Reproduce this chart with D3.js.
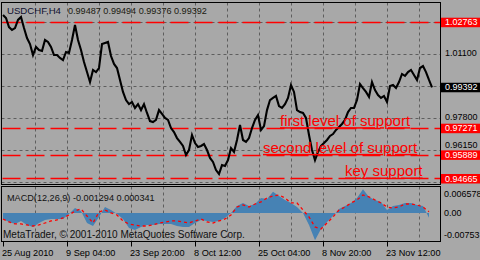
<!DOCTYPE html>
<html><head><meta charset="utf-8">
<script src="https://cdn.jsdelivr.net/npm/d3@7"></script>
<style>
html,body{margin:0;padding:0;background:#a8a8a8;}
svg{display:block;font-family:"Liberation Sans",Arial,sans-serif;}
</style></head>
<body>
<svg id="c" width="480" height="260"></svg>
<script>
// ---------- DATA ----------
const symbolTitle = "USDCHF,H4";
const ohlcText = "0.99487 0.99494 0.99376 0.99392";
const macdTitle = "MACD(12,26,9) -0.001294 0.000341";
const copyright = "MetaTrader, \u00A9 2001-2010 MetaQuotes Software Corp.";

// close prices, one point every 3 H4 bars
const closes = [
1.0314,1.0298,1.0251,1.0236,1.0246,1.0288,1.0303,1.0246,1.0194,1.0163,
1.0106,1.0148,1.0132,1.0127,1.0184,1.0174,1.0148,1.0106,1.0106,1.0091,
1.0080,1.0122,1.0117,1.0184,1.0262,1.0184,1.0132,1.0070,1.0018,0.9966,
1.0029,1.0018,1.0039,1.0163,1.0169,1.0174,1.0101,1.0060,1.0039,0.9977,
0.9915,0.9873,0.9852,0.9863,0.9832,0.9852,0.9821,0.9852,0.9806,0.9764,
0.9759,0.9770,0.9821,0.9801,0.9780,0.9770,0.9728,0.9707,0.9676,0.9656,
0.9635,0.9588,0.9614,0.9692,0.9650,0.9630,0.9635,0.9645,0.9614,0.9573,
0.9552,0.9510,0.9490,0.9536,0.9531,0.9562,0.9624,0.9604,0.9666,0.9744,
0.9666,0.9656,0.9676,0.9728,0.9770,0.9795,0.9718,0.9738,0.9821,0.9873,
0.9884,0.9894,0.9842,0.9832,0.9852,0.9884,0.9951,0.9915,0.9821,0.9811,
0.9806,0.9780,0.9692,0.9614,0.9562,0.9604,0.9635,0.9650,0.9666,0.9687,
0.9697,0.9718,0.9733,0.9749,0.9770,0.9811,0.9832,0.9832,0.9873,0.9956,
0.9935,0.9915,0.9889,0.9966,0.9925,0.9899,0.9884,0.9894,0.9863,0.9946,
0.9951,0.9935,0.9966,1.0008,0.9998,1.0018,1.0029,1.0003,0.9977,1.0039,
1.0049,1.0018,0.9977,0.9939];
const barsPerClose = 3;

// MACD histogram and signal (x1e-3), one point every 6 H4 bars
const macdMain = [
-1.66,-2.49,-3.04,-2.21,-3.32,-3.87,-2.77,-1.94,-1.66,-1.66,
-1.66,-0.28,1.38,0.55,-2.77,-3.60,-1.11,1.66,0.83,-0.28,
-1.66,-4.15,-4.70,-3.87,-3.32,-3.32,-3.04,-3.04,-3.04,-3.60,
-3.87,-3.87,-2.77,-1.94,-2.21,-2.49,-2.21,-1.38,0.00,1.94,
2.77,1.94,2.49,4.15,3.87,5.90,4.70,3.60,2.77,1.66,
0.00,-3.32,-7.53,-4.43,-2.49,-0.83,1.11,1.94,2.77,4.15,
6.58,4.43,3.60,3.04,0.83,1.94,2.21,2.77,2.77,2.21,
1.94,-1.29];
const macdSignal = [
-1.66,-2.49,-3.04,-3.04,-3.32,-3.60,-3.32,-2.77,-2.21,-1.94,
-1.38,-0.55,0.55,1.11,-0.83,-2.77,0.28,0.83,0.00,-0.55,
-2.21,-3.04,-3.32,-3.60,-3.60,-3.32,-2.77,-2.49,-2.21,-2.21,
-2.49,-2.77,-2.21,-1.66,-2.49,-2.77,-2.21,-1.66,-0.55,1.66,
2.21,1.66,2.49,3.04,4.15,4.70,4.98,4.15,2.77,2.77,
0.83,-1.11,-3.87,-4.43,-2.77,-1.11,0.83,1.66,2.77,3.60,
4.98,4.43,3.60,2.77,1.66,1.38,1.66,2.49,2.49,2.21,
1.66,0.34];
const barsPerMacd = 6;

const dateLabels = ["25 Aug 2010","9 Sep 04:00","23 Sep 20:00","8 Oct 12:00","25 Oct 04:00","8 Nov 20:00","23 Nov 12:00"];
const dateLabelBars = [0,64,128,192,256,320,384];
const priceTicks = [1.0275,1.0110,0.9945,0.9780,0.9615,0.9450];
const priceTickValuesShown = [1.0110,0.9780,0.9615];
const priceTickLabels = ["1.01100","0.97800","0.96150"];
const levels = [1.02763,0.97271,0.95889,0.94665];
const levelLabels = ["1.02763","0.97271","0.95889","0.94665"];
const lastPrice = 0.99392, lastPriceLabel = "0.99392";
const notes = ["first level of support","second level of support","key support"];
const noteLevels = [0.97271,0.95889,0.94665];
const noteBars = [277,260,342];
const macdTickValues = [0.006578,0,-0.00753];
const macdTickLabels = ["0.006578","0.00","-0.00753"];

// ---------- DRAW ----------
const svg = d3.select("#c");
const W = 480, H = 260;
const L = 1.5, R = 440.5;
const pTop = 2.5, pBot = 184.5, mTop = 186.5, mBot = 241.5;

const x = d3.scaleLinear().domain([0,437]).range([3,440]);
const y = d3.scaleLinear().domain([0.94354,1.03784]).range([184.5,2.5]);
const ym = d3.scaleLinear().domain([-0.00753,0.006578]).range([240.2,189.2]);

function fitSize(str, target, base){
  const t = svg.append("text").attr("font-size",base).text(str);
  const w = t.node().getComputedTextLength();
  t.remove();
  return w > 0 ? base*target/w : base;
}

svg.append("rect").attr("width",W).attr("height",H).attr("fill","#a8a8a8");
const numFs = fitSize("0.99392", 32.5, 10);
const dateFs = fitSize("9 Sep 04:00", 49.5, 10);
const headFs = fitSize(ohlcText, 139, 10);
const symFs = fitSize(symbolTitle, 54, 10);
const macdFs = fitSize(macdTitle, 148, 10);
const copyFs = fitSize(copyright, 242, 10);

const defs = svg.append("defs");
defs.append("clipPath").attr("id","cp").append("rect").attr("x",L).attr("y",pTop).attr("width",R-L).attr("height",pBot-pTop);
defs.append("clipPath").attr("id","cm").append("rect").attr("x",L).attr("y",mTop).attr("width",R-L).attr("height",mBot-mTop);

const gridCol = "#5e5e5e";
const gridBars = d3.range(32, 437, 32);
[[pTop,pBot],[mTop,mBot]].forEach(([a,b])=>{
  svg.append("g").selectAll("line").data(gridBars).join("line")
    .attr("x1",d=>Math.round(x(d))+0.5).attr("x2",d=>Math.round(x(d))+0.5)
    .attr("y1",a).attr("y2",b)
    .attr("stroke",gridCol).attr("stroke-width",1).attr("stroke-dasharray","3,3");
});
svg.append("g").selectAll("line").data(priceTicks).join("line")
  .attr("x1",L).attr("x2",R)
  .attr("y1",d=>Math.round(y(d))+0.5).attr("y2",d=>Math.round(y(d))+0.5)
  .attr("stroke",gridCol).attr("stroke-width",1).attr("stroke-dasharray","3,3");

svg.append("g").selectAll("line").data(levels).join("line")
  .attr("x1",L+1).attr("x2",R)
  .attr("y1",d=>Math.round(y(d))+0.5).attr("y2",d=>Math.round(y(d))+0.5)
  .attr("stroke","#ff0000").attr("stroke-width",1.3).attr("stroke-dasharray","18,6");

const line = d3.line().x((d,i)=>x(i*barsPerClose)).y(d=>y(d));
svg.append("path").datum(closes).attr("clip-path","url(#cp)")
  .attr("d",line).attr("fill","none").attr("stroke","#000").attr("stroke-width",2.1)
  .attr("stroke-linejoin","miter");

svg.append("g").selectAll("text").data(notes).join("text")
  .attr("x",(d,i)=>x(noteBars[i])).attr("y",(d,i)=>y(noteLevels[i])-2)
  .attr("fill","#ff0000").attr("font-size",15).attr("text-decoration","underline")
  .text(d=>d);

const area = d3.area().x((d,i)=>x(i*barsPerMacd)).y0(ym(0)).y1(d=>ym(d/1000));
svg.append("path").datum(macdMain).attr("clip-path","url(#cm)")
  .attr("d",area).attr("fill","#4682b4");
const sline = d3.line().x((d,i)=>x(i*barsPerMacd)).y(d=>ym(d/1000));
svg.append("path").datum(macdSignal).attr("clip-path","url(#cm)")
  .attr("d",sline).attr("fill","none").attr("stroke","#ff0000").attr("stroke-width",1.3)
  .attr("stroke-dasharray","3,3");

svg.append("rect").attr("x",L).attr("y",pTop).attr("width",R-L).attr("height",pBot-pTop)
  .attr("fill","none").attr("stroke","#000").attr("stroke-width",1);
svg.append("rect").attr("x",L).attr("y",mTop).attr("width",R-L).attr("height",mBot-mTop)
  .attr("fill","none").attr("stroke","#000").attr("stroke-width",1);

// price axis labels; a label that would run into a level box is lifted above it
const boxTops = levels.map(v=>y(v)-4.5);
const halfH = numFs*0.6;
const labelY = v => {
  let c = y(v)-1;
  boxTops.forEach(t=>{ if (c < t+9.5 && c+halfH > t) c = t - halfH - 0.3; });
  return c;
};
svg.append("g").selectAll("text").data(priceTickLabels).join("text")
  .attr("x",445).attr("y",(d,i)=>labelY(priceTickValuesShown[i])).attr("dy","0.35em")
  .attr("font-size",numFs).attr("fill","#000").text(d=>d);

const lb = svg.append("g").selectAll("g").data(levels).join("g");
lb.append("rect").attr("x",441).attr("width",39).attr("y",d=>y(d)-4.5).attr("height",9.5).attr("fill","#ff0000");
lb.append("text").attr("x",445).attr("y",d=>y(d)).attr("dy","0.35em")
  .attr("font-size",numFs).attr("fill","#fff").text((d,i)=>levelLabels[i]);
svg.append("rect").attr("x",441).attr("width",39).attr("y",y(lastPrice)-4.5).attr("height",9.5).attr("fill","#000");
svg.append("text").attr("x",445).attr("y",y(lastPrice)).attr("dy","0.35em")
  .attr("font-size",numFs).attr("fill","#fff").text(lastPriceLabel);

svg.append("g").selectAll("text").data(macdTickLabels).join("text")
  .attr("x",444).attr("y",(d,i)=>[193.5,213,235][i]).attr("dy","0.35em")
  .attr("font-size",numFs).attr("fill","#000").text(d=>d);

const dg = svg.append("g");
dg.selectAll("line").data(dateLabelBars).join("line")
  .attr("x1",d=>Math.round(x(d))+0.5).attr("x2",d=>Math.round(x(d))+0.5)
  .attr("y1",mBot).attr("y2",mBot+5).attr("stroke","#000");
dg.selectAll("text").data(dateLabels).join("text")
  .attr("x",(d,i)=>x(dateLabelBars[i])-1).attr("y",256)
  .attr("font-size",dateFs).attr("fill","#000").text(d=>d);

svg.append("text").attr("x",7).attr("y",14).attr("font-size",symFs)
  .attr("fill","#101030").text(symbolTitle);
svg.append("text").attr("x",68).attr("y",14).attr("font-size",headFs)
  .attr("fill","#1a1a10").text(ohlcText);
svg.append("text").attr("x",7).attr("y",200.5).attr("font-size",macdFs)
  .attr("fill","#101010").text(macdTitle);
svg.append("text").attr("x",3).attr("y",237.5).attr("font-size",copyFs)
  .attr("fill","#101010").text(copyright);
</script>
</body></html>
